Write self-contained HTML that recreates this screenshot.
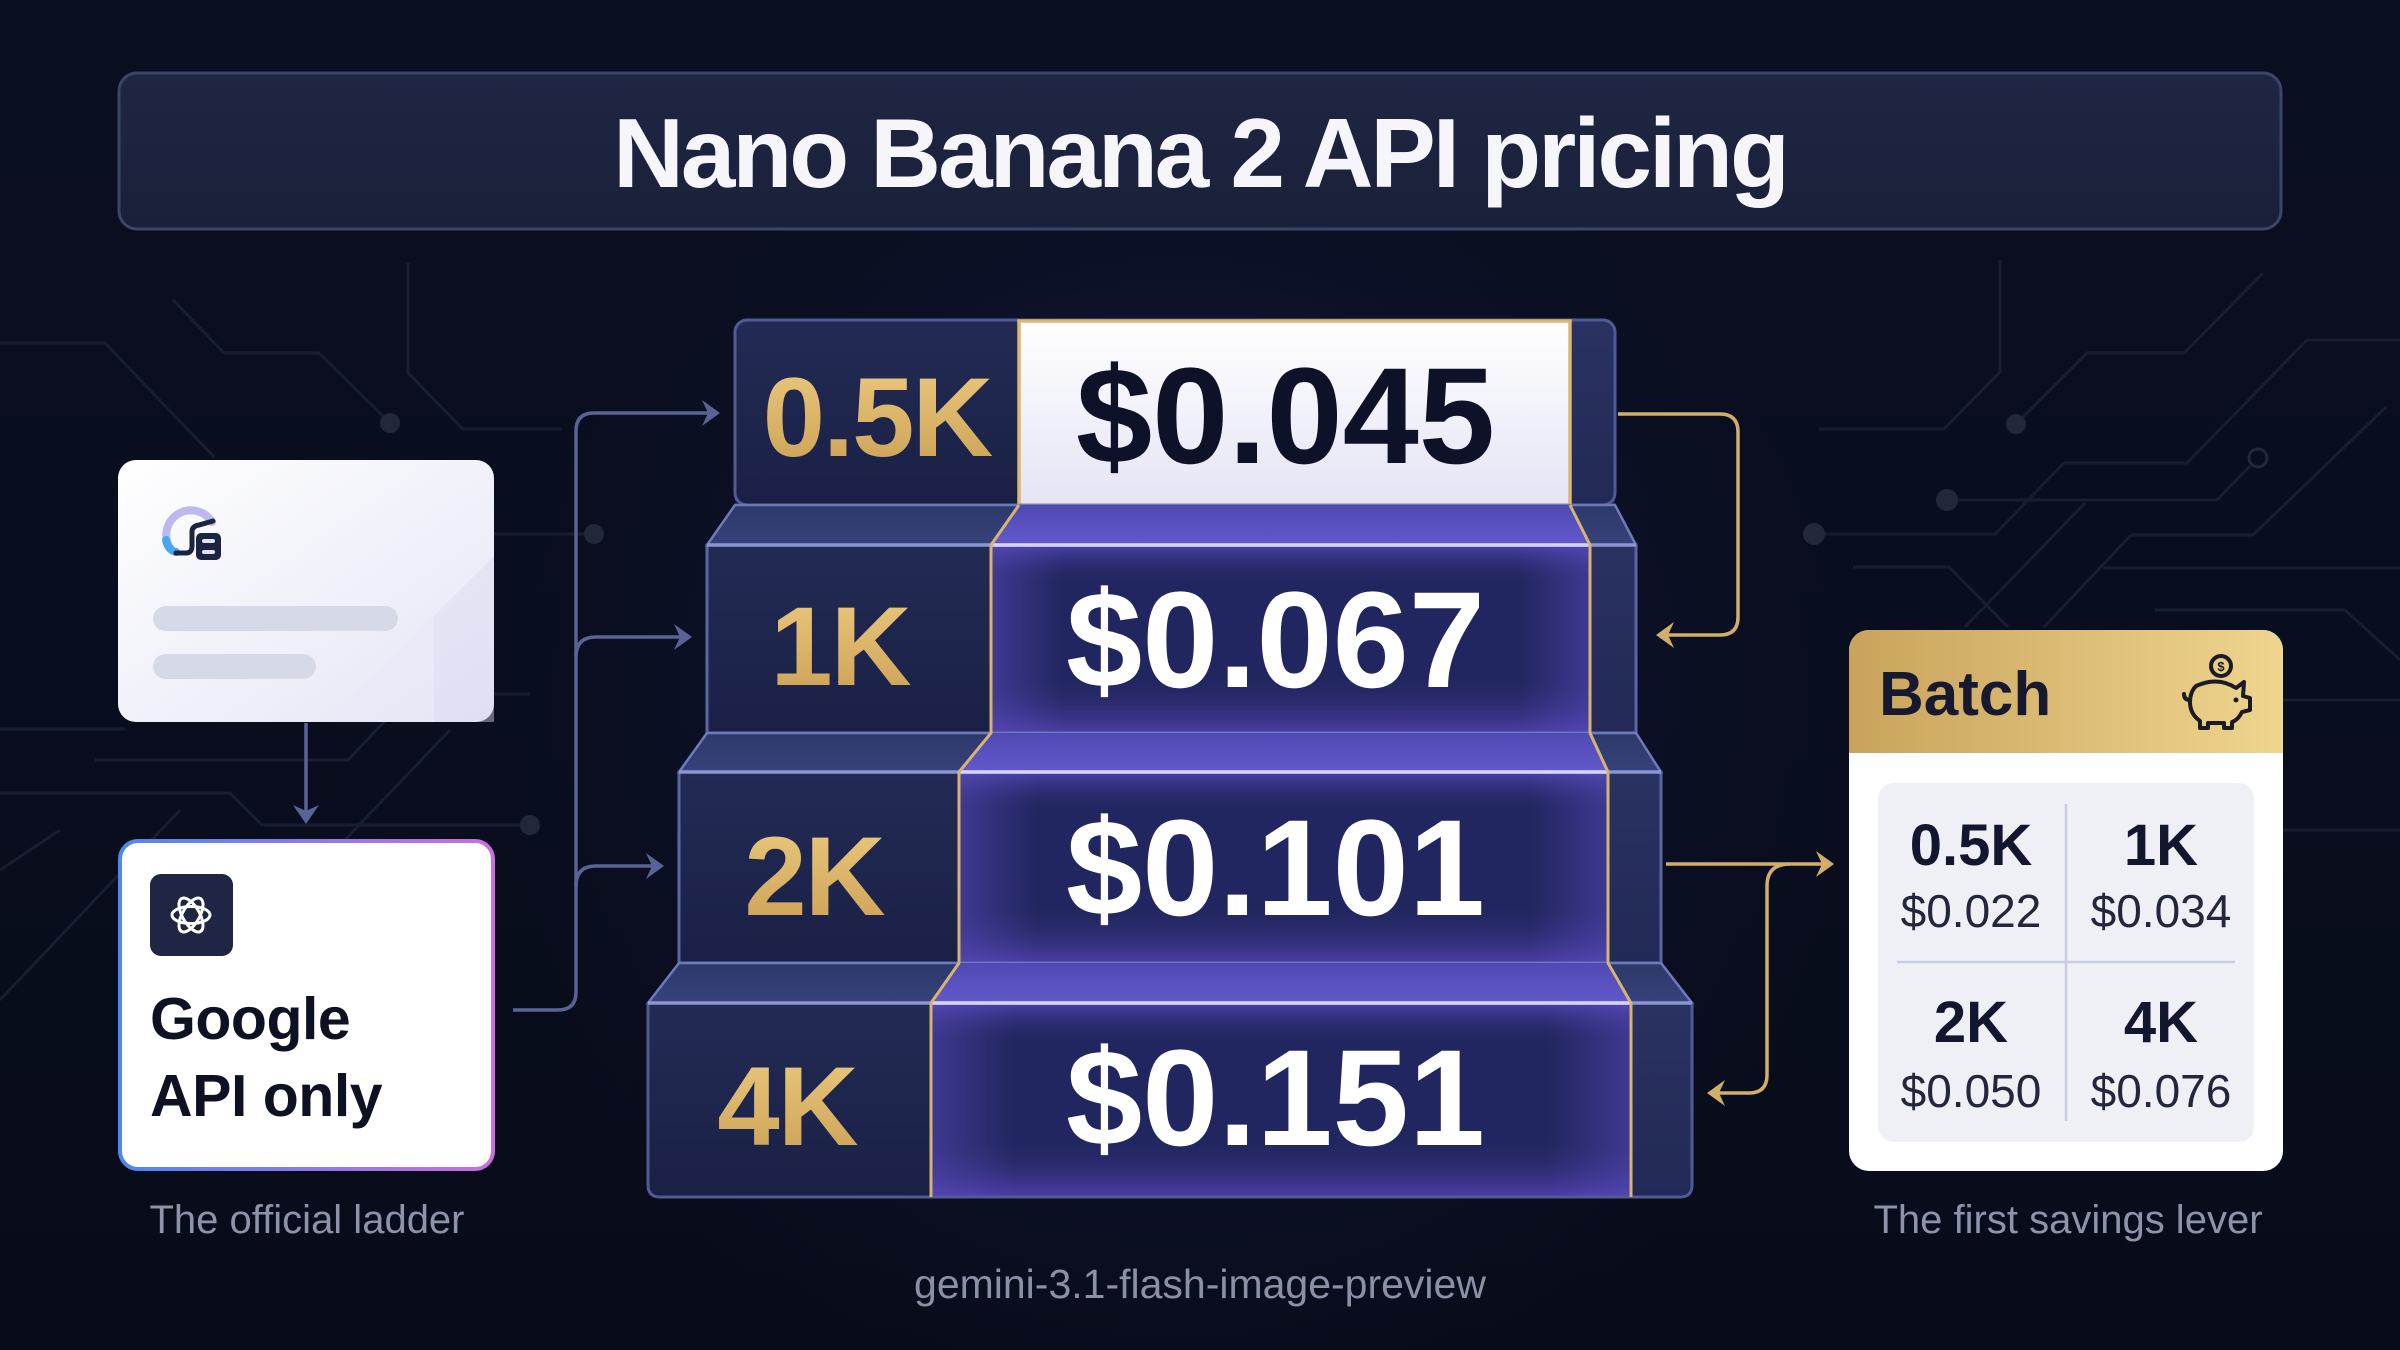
<!DOCTYPE html>
<html><head><meta charset="utf-8">
<style>
html,body{margin:0;padding:0;background:#090d1c;}
svg{display:block}
text{font-family:"Liberation Sans",Arial,sans-serif}
</style></head><body>
<svg width="2400" height="1350" viewBox="0 0 2400 1350" xmlns="http://www.w3.org/2000/svg">
<defs>
 <linearGradient id="bg" x1="0" y1="0" x2="0" y2="1">
  <stop offset="0" stop-color="#0a0f21"/><stop offset="1" stop-color="#080c1a"/>
 </linearGradient>
 <radialGradient id="bgGlow" cx="1180" cy="730" r="720" gradientUnits="userSpaceOnUse">
  <stop offset="0" stop-color="#3b3094" stop-opacity="0.55"/>
  <stop offset="0.45" stop-color="#1e1f5a" stop-opacity="0.35"/>
  <stop offset="1" stop-color="#090d1c" stop-opacity="0"/>
 </radialGradient>
 <linearGradient id="titleFill" x1="0" y1="0" x2="0" y2="1">
  <stop offset="0" stop-color="#1f2643"/><stop offset="1" stop-color="#1a2039"/>
 </linearGradient>
 <linearGradient id="lbl" x1="0" y1="0" x2="0" y2="1">
  <stop offset="0" stop-color="#232b55"/><stop offset="1" stop-color="#1a2045"/>
 </linearGradient>
 <linearGradient id="rcell" x1="0" y1="0" x2="0" y2="1">
  <stop offset="0" stop-color="#2a3262"/><stop offset="1" stop-color="#222956"/>
 </linearGradient>
 <linearGradient id="pv" x1="0" y1="0" x2="0" y2="1">
  <stop offset="0" stop-color="#5c4ec6" stop-opacity="0.7"/>
  <stop offset="0.2" stop-color="#2a2a6a" stop-opacity="0"/>
  <stop offset="0.7" stop-color="#2a2a6a" stop-opacity="0"/>
  <stop offset="1" stop-color="#5f48c4" stop-opacity="0.7"/>
 </linearGradient>
 <linearGradient id="ph" x1="0" y1="0" x2="1" y2="0">
  <stop offset="0" stop-color="#5a4cc0" stop-opacity="0.5"/>
  <stop offset="0.12" stop-color="#5a4cc0" stop-opacity="0"/>
  <stop offset="0.88" stop-color="#5a4cc0" stop-opacity="0"/>
  <stop offset="1" stop-color="#5a4cc0" stop-opacity="0.5"/>
 </linearGradient>
 <linearGradient id="bevL" x1="0" y1="0" x2="0" y2="1">
  <stop offset="0" stop-color="#2d386a"/><stop offset="1" stop-color="#36427a"/>
 </linearGradient>
 <linearGradient id="bevP" x1="0" y1="0" x2="0" y2="1">
  <stop offset="0" stop-color="#4e4ab4"/><stop offset="1" stop-color="#6258ca"/>
 </linearGradient>
 <linearGradient id="white1" x1="0" y1="0" x2="0" y2="1">
  <stop offset="0" stop-color="#ffffff"/><stop offset="1" stop-color="#e4e4f6"/>
 </linearGradient>
 <linearGradient id="gold" x1="0" y1="0" x2="0" y2="1">
  <stop offset="0" stop-color="#edcb7e"/><stop offset="1" stop-color="#c99e55"/>
 </linearGradient>
 <linearGradient id="batchHead" x1="0" y1="0" x2="1" y2="0">
  <stop offset="0" stop-color="#c9a35c"/><stop offset="1" stop-color="#efd58f"/>
 </linearGradient>
 <linearGradient id="cardTop" x1="0" y1="0" x2="1" y2="1">
  <stop offset="0" stop-color="#ffffff"/><stop offset="1" stop-color="#e3e5f5"/>
 </linearGradient>
 <linearGradient id="cardBorder" x1="0" y1="0" x2="1" y2="0">
  <stop offset="0" stop-color="#4f86f0"/><stop offset="1" stop-color="#c870dc"/>
 </linearGradient>
 <clipPath id="c1"><rect x="735" y="320" width="880" height="200" rx="12"/></clipPath>
 <clipPath id="c4"><rect x="648" y="980" width="1044" height="217" rx="12"/></clipPath>
 <clipPath id="cBatch"><rect x="1849" y="630" width="434" height="541" rx="20"/></clipPath>
</defs>

<!-- background -->
<rect x="0" y="0" width="2400" height="1350" fill="url(#bg)"/>
<rect x="0" y="0" width="2400" height="1350" fill="url(#bgGlow)"/>

<!-- circuit lines -->
<g stroke="#181e31" stroke-width="3" fill="none">
 <path d="M408 263 V373 L463 429 H561"/>
 <path d="M0 343 H105 L214 457"/>
 <path d="M173 300 L224 353 H319 L390 423"/>
 <path d="M494 534 H594"/>
 <path d="M494 694 H530"/>
 <path d="M0 729 H125"/>
 <path d="M95 760 H348 L400 705"/>
 <path d="M0 793 H230 L262 825 H530"/>
 <path d="M0 870 L60 830"/>
 <path d="M0 1000 L180 810"/>
 <path d="M340 845 L450 730"/>
 <path d="M2000 260 V372 L1944 429 H1819"/>
 <path d="M2016 424 L2087 353 H2184 L2263 273"/>
 <path d="M1814 534 H1995 L2064 463 H2187 L2307 340 H2400"/>
 <path d="M1947 500 H2217 L2250 466"/>
 <path d="M1853 567 H1949 L2008 627"/>
 <path d="M2085 503 L1965 627"/>
 <path d="M2131 535 H2253 L2386 407"/>
 <path d="M2131 535 L2044 627"/>
 <path d="M2103 568 H2400"/>
 <path d="M2155 610 H2345 L2400 660"/>
 <path d="M2283 700 H2400"/>
 <path d="M2283 830 H2400"/>
</g>
<g fill="#222839">
 <circle cx="390" cy="423" r="10"/>
 <circle cx="594" cy="534" r="10"/>
 <circle cx="530" cy="825" r="10"/>
 <circle cx="2016" cy="424" r="10"/>
 <circle cx="1814" cy="534" r="11"/>
 <circle cx="1947" cy="500" r="11"/>
</g>
<circle cx="2258" cy="458" r="9" fill="none" stroke="#222839" stroke-width="3"/>

<!-- title -->
<rect x="119" y="73" width="2162" height="156" rx="18" fill="url(#titleFill)" stroke="#3b4566" stroke-width="3"/>
<text x="1200" y="187" text-anchor="middle" font-size="98" font-weight="bold" letter-spacing="-3" fill="#f5f5fa">Nano Banana 2 API pricing</text>

<!-- left connectors -->
<g stroke="#5a6396" stroke-width="3.5" fill="none">
 <path d="M513 1010 H558 Q576 1010 576 992 V431 Q576 413 594 413 H708"/>
 <path d="M576 657 Q576 637 596 637 H680"/>
 <path d="M576 886 Q576 866 596 866 H652"/>
 <path d="M306 723 V815"/>
</g>
<g fill="#5a6396">
 <polygon points="720,413 702,400 708,413 702,426"/>
 <polygon points="692,637 674,624 680,637 674,650"/>
 <polygon points="664,866 646,853 652,866 646,879"/>
 <polygon points="306,824 293,805 306,811 319,805"/>
</g>

<!-- gold connectors -->
<g stroke="#d3ae6a" stroke-width="3.5" fill="none">
 <path d="M1618 414 H1720 Q1738 414 1738 432 V617 Q1738 635 1720 635 H1666"/>
 <path d="M1666 864 H1822"/>
 <path d="M1790 864 Q1767 864 1767 886 V1075 Q1767 1093 1749 1093 H1717"/>
</g>
<g fill="#d3ae6a">
 <polygon points="1656,635 1674,622 1668,635 1674,648"/>
 <polygon points="1834,864 1816,851 1822,864 1816,877"/>
 <polygon points="1707,1093 1725,1080 1719,1093 1725,1106"/>
</g>

<!-- LADDER -->
<!-- Step 1 -->
<g clip-path="url(#c1)">
 <rect x="735" y="320" width="880" height="185" fill="url(#lbl)"/>
 <rect x="1570" y="320" width="45" height="185" fill="url(#rcell)"/>
 <rect x="1019" y="320" width="551" height="185" fill="url(#white1)"/>
</g>
<rect x="735" y="320" width="880" height="185" rx="12" fill="none" stroke="#4f5b94" stroke-width="3"/>
<rect x="1019" y="321" width="551" height="184" fill="none" stroke="#d9b873" stroke-width="3.5"/>

<!-- Bevel 1 -->
<polygon points="735,505 1615,505 1636,545 707,545" fill="url(#bevL)" stroke="#6e7abb" stroke-width="2.5"/>
<polygon points="1019,505 1570,505 1590,545 991,545" fill="url(#bevP)"/>

<!-- Step 2 -->
<rect x="707" y="545" width="929" height="188" fill="url(#lbl)"/>
<rect x="1590" y="545" width="46" height="188" fill="url(#rcell)"/>
<rect x="991" y="545" width="599" height="188" fill="#212660"/>
<rect x="991" y="545" width="599" height="188" fill="url(#pv)"/>
<rect x="991" y="545" width="599" height="188" fill="url(#ph)"/>
<rect x="707" y="545" width="929" height="188" fill="none" stroke="#5b67a4" stroke-width="3"/>

<!-- Bevel 2 -->
<polygon points="707,733 1636,733 1661,772 679,772" fill="url(#bevL)" stroke="#6e7abb" stroke-width="2.5"/>
<polygon points="991,733 1590,733 1608,772 959,772" fill="url(#bevP)"/>

<!-- Step 3 -->
<rect x="679" y="772" width="982" height="191" fill="url(#lbl)"/>
<rect x="1608" y="772" width="53" height="191" fill="url(#rcell)"/>
<rect x="959" y="772" width="649" height="191" fill="#212660"/>
<rect x="959" y="772" width="649" height="191" fill="url(#pv)"/>
<rect x="959" y="772" width="649" height="191" fill="url(#ph)"/>
<rect x="679" y="772" width="982" height="191" fill="none" stroke="#5b67a4" stroke-width="3"/>

<!-- Bevel 3 -->
<polygon points="679,963 1661,963 1692,1003 648,1003" fill="url(#bevL)" stroke="#6e7abb" stroke-width="2.5"/>
<polygon points="959,963 1608,963 1631,1003 931,1003" fill="url(#bevP)"/>

<!-- Step 4 -->
<g clip-path="url(#c4)">
 <rect x="648" y="1003" width="1044" height="194" fill="url(#lbl)"/>
 <rect x="1631" y="1003" width="61" height="194" fill="url(#rcell)"/>
 <rect x="931" y="1003" width="700" height="194" fill="#212660"/>
 <rect x="931" y="1003" width="700" height="194" fill="url(#pv)"/>
 <rect x="931" y="1003" width="700" height="194" fill="url(#ph)"/>
</g>
<path d="M648 1003 V1185 Q648 1197 660 1197 H1680 Q1692 1197 1692 1185 V1003" fill="none" stroke="#4f5b94" stroke-width="3"/>

<!-- step top highlight lines -->
<g stroke-width="3.5">
 <line x1="707" y1="545" x2="1636" y2="545" stroke="#8a95d2"/>
 <line x1="991" y1="545" x2="1590" y2="545" stroke="#d6d4ff"/>
 <line x1="679" y1="772" x2="1661" y2="772" stroke="#8a95d2"/>
 <line x1="959" y1="772" x2="1608" y2="772" stroke="#d6d4ff"/>
 <line x1="648" y1="1003" x2="1692" y2="1003" stroke="#8a95d2"/>
 <line x1="931" y1="1003" x2="1631" y2="1003" stroke="#d6d4ff"/>
</g>

<!-- gold separators -->
<g stroke="#d6b372" stroke-width="3" fill="none">
 <path d="M1019 505 L991 545 V733 L959 772 V963 L931 1003 V1197"/>
 <path d="M1570 505 L1590 545 V733 L1608 772 V963 L1631 1003 V1197"/>
</g>

<!-- ladder texts -->
<g font-weight="bold">
 <text x="877" y="456" text-anchor="middle" font-size="112" letter-spacing="-2" fill="url(#gold)">0.5K</text>
 <text x="840" y="685" text-anchor="middle" font-size="112" letter-spacing="-2" fill="url(#gold)">1K</text>
 <text x="814" y="915" text-anchor="middle" font-size="112" letter-spacing="-2" fill="url(#gold)">2K</text>
 <text x="787" y="1145" text-anchor="middle" font-size="112" letter-spacing="-2" fill="url(#gold)">4K</text>
 <text x="1076" y="463" font-size="137" fill="#0e1228">$0.045</text>
 <text x="1066" y="687" font-size="137" fill="#ffffff">$0.067</text>
 <text x="1066" y="915" font-size="137" fill="#ffffff">$0.101</text>
 <text x="1066" y="1145" font-size="137" fill="#ffffff">$0.151</text>
</g>

<!-- LEFT TOP CARD -->
<rect x="118" y="460" width="376" height="262" rx="18" fill="url(#cardTop)"/>
<polygon points="494,556 434,616 434,722 494,722" fill="#d9dcf0" opacity="0.45"/>
<polygon points="434,616 330,722 434,722" fill="#e8eaf7" opacity="0.6"/>
<rect x="153" y="606" width="245" height="25" rx="12.5" fill="#d6d9e7"/>
<rect x="153" y="654" width="163" height="25" rx="12.5" fill="#d6d9e7"/>
<!-- headset icon -->
<path d="M170 548 A24 24 0 1 1 212 522" fill="none" stroke="#bdb8ee" stroke-width="8" stroke-linecap="round"/>
<path d="M166 540 Q168 550 176 552" fill="none" stroke="#47a6ef" stroke-width="8" stroke-linecap="round"/>
<path d="M176 553 H186 Q192 553 192 546 V532 Q192 526 199 525 L213 521" fill="none" stroke="#1c2540" stroke-width="5" stroke-linecap="round"/>
<rect x="196" y="533" width="25" height="27" rx="5" fill="#1c2540"/>
<rect x="202" y="539" width="13" height="4" rx="2" fill="#dfe3f2"/>
<rect x="202" y="550" width="13" height="4" rx="2" fill="#dfe3f2"/>

<!-- LEFT BOTTOM CARD -->
<rect x="120" y="841" width="373" height="328" rx="18" fill="#ffffff" stroke="url(#cardBorder)" stroke-width="4"/>
<rect x="150" y="874" width="83" height="82" rx="11" fill="#1f2542"/>
<g fill="none" stroke="#ffffff" stroke-width="3">
 <ellipse cx="191" cy="915" rx="19" ry="8.5"/>
 <ellipse cx="191" cy="915" rx="19" ry="8.5" transform="rotate(60 191 915)"/>
 <ellipse cx="191" cy="915" rx="19" ry="8.5" transform="rotate(120 191 915)"/>
</g>
<text x="150" y="1039" font-size="59" font-weight="bold" fill="#0e1122" letter-spacing="-0.5">Google</text>
<text x="150" y="1116" font-size="59" font-weight="bold" fill="#0e1122" letter-spacing="-0.5">API only</text>
<text x="307" y="1233" text-anchor="middle" font-size="40" fill="#8d93a8">The official ladder</text>

<!-- BATCH CARD -->
<g clip-path="url(#cBatch)">
 <rect x="1849" y="630" width="434" height="541" fill="#ffffff"/>
 <rect x="1849" y="630" width="434" height="123" fill="url(#batchHead)"/>
</g>
<text x="1879" y="715" font-size="62" font-weight="bold" fill="#171a2e">Batch</text>
<!-- piggy -->
<g fill="none" stroke="#1c1a24" stroke-width="4" stroke-linejoin="round" stroke-linecap="round">
 <path d="M2196 686 Q2218 676 2236 688 L2244 682 L2243 696 L2250 698 V710 L2242 712 Q2238 720 2232 722 V728 H2224 V723 H2208 V728 H2200 V721 Q2190 714 2190 702 Q2190 692 2196 686 Z"/>
 <path d="M2190 700 Q2184 700 2184 694"/>
 <circle cx="2221" cy="666" r="10"/>
</g>
<circle cx="2236" cy="700" r="2.5" fill="#1c1a24"/>
<text x="2221" y="671" text-anchor="middle" font-size="13" font-weight="bold" fill="#1c1a24">$</text>

<rect x="1878" y="783" width="376" height="359" rx="16" fill="#eef0f6"/>
<line x1="2066" y1="804" x2="2066" y2="1121" stroke="#c9cde0" stroke-width="2.5"/>
<line x1="1897" y1="962" x2="2235" y2="962" stroke="#c9cde0" stroke-width="2.5"/>
<g text-anchor="middle">
 <text x="1971" y="865" font-size="58" font-weight="bold" fill="#12162e">0.5K</text>
 <text x="2161" y="865" font-size="58" font-weight="bold" fill="#12162e">1K</text>
 <text x="1971" y="927" font-size="46" fill="#23273c">$0.022</text>
 <text x="2161" y="927" font-size="46" fill="#23273c">$0.034</text>
 <text x="1971" y="1042" font-size="58" font-weight="bold" fill="#12162e">2K</text>
 <text x="2161" y="1042" font-size="58" font-weight="bold" fill="#12162e">4K</text>
 <text x="1971" y="1107" font-size="46" fill="#23273c">$0.050</text>
 <text x="2161" y="1107" font-size="46" fill="#23273c">$0.076</text>
</g>
<text x="2068" y="1233" text-anchor="middle" font-size="40" fill="#8d93a8">The first savings lever</text>

<!-- footer -->
<text x="1200" y="1298" text-anchor="middle" font-size="41" fill="#8a90a6">gemini-3.1-flash-image-preview</text>
</svg>
</body></html>
